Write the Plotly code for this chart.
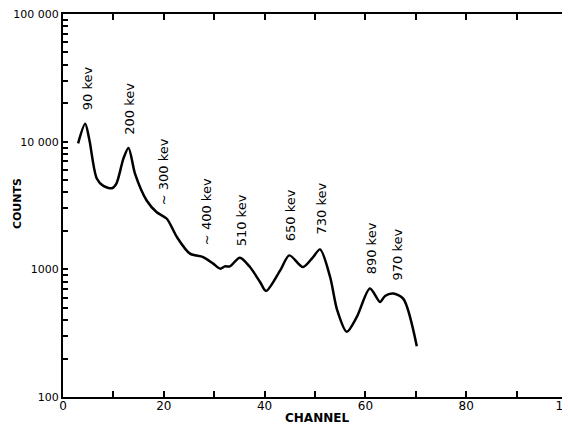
import plotly.graph_objects as go

# Data
channel = [3.0, 4.4, 5.2, 6.7, 8.0, 9.7, 10.6, 12.0, 13.0, 14.3, 16.6, 18.6, 20.6, 22.6, 25.2,
           27.8, 29.8, 31.2, 32.1, 33.1, 35.1, 37.1, 39.1, 40.3, 43.1, 44.9, 47.6, 49.5, 51.0, 53.0,
           54.4, 56.3, 58.3, 60.9, 62.9, 63.9, 65.5, 67.5, 70.2]
counts = [9700, 13800, 10500, 5140, 4500, 4320, 4700, 7400, 8930, 5590, 3460, 2800, 2490, 1790, 1327,
          1248, 1109, 1012, 1055, 1055, 1234, 1042, 795, 677, 981, 1286, 1042, 1230, 1433, 871,
          479, 324, 424, 707, 555, 619, 646, 590, 250]

peak_labels = ["90 kev", "200 kev", "~ 300 kev", "~ 400 kev", "510 kev", "650 kev", "730 kev", "890 kev", "970 kev"]
label_x = [4.8, 13.3, 20.0, 28.5, 35.5, 45.2, 51.2, 61.1, 66.3]
label_logy = [4.42, 4.258, 3.766, 3.453, 3.383, 3.422, 3.477, 3.164, 3.117]

y_tickvals = [100, 1000, 10000, 100000]
y_ticktext = ["100", "1000", "10 000", "100 000"]
y_minor = [m * d for d in (100, 1000, 10000) for m in range(2, 10)]
x_tickvals = [0, 20, 40, 60, 80, 100]

FONT = "DejaVu Sans"

fig = go.Figure()
fig.add_trace(go.Scatter(x=channel, y=counts, mode="lines",
                         line=dict(color="black", width=2.5, shape="spline", smoothing=0.8),
                         showlegend=False, hoverinfo="skip"))

for t, x, ly in zip(peak_labels, label_x, label_logy):
    fig.add_annotation(x=x, y=ly, text=t, textangle=-90, showarrow=False,
                       font=dict(family=FONT, size=13, color="black"))

fig.add_annotation(xref="paper", yref="paper", x=0.504, y=-0.055, yanchor="middle",
                   text="CHANNEL", showarrow=False,
                   font=dict(family=FONT, size=12, color="black", weight="bold"))
fig.add_annotation(xref="paper", yref="paper", x=-0.089, y=0.504, xanchor="center",
                   text="COUNTS", textangle=-90, showarrow=False,
                   font=dict(family=FONT, size=11, color="black", weight="bold"))

fig.update_xaxes(range=[0, 100], tick0=0, dtick=10,
                 ticks="inside", ticklen=6, tickwidth=1.5, tickcolor="black",
                 showline=True, linecolor="black", linewidth=2, mirror="ticks",
                 showgrid=False, zeroline=False, automargin=False,
                 showticklabels=False)
fig.update_yaxes(type="log", range=[2, 5], tickmode="array", tickvals=y_minor + y_tickvals,
                 ticktext=[""] * len(y_minor) + y_ticktext,
                 ticks="inside", ticklen=5, tickwidth=1.5, tickcolor="black",
                 showline=True, linecolor="black", linewidth=2, mirror="ticks",
                 showgrid=False, zeroline=False, automargin=False,
                 ticklabeloverflow="allow",
                 tickfont=dict(family=FONT, size=11, color="black"))

# x tick labels every 20 on an overlaying axis without ticks
fig.update_layout(xaxis2=dict(overlaying="x", matches="x", anchor="y", side="bottom",
                              tickmode="array", tickvals=x_tickvals, ticks="", showline=False,
                              showgrid=False, zeroline=False, automargin=False,
                              ticklabeloverflow="allow",
                              tickfont=dict(family=FONT, size=12, color="black")))
fig.add_trace(go.Scatter(x=[], y=[], xaxis="x2", yaxis="y", showlegend=False))

# The page body adds an 8px margin, so the figure is sized to fit the 570x428 window
fig.update_layout(width=562, height=420, margin=dict(l=55, r=3, t=6, b=31),
                  plot_bgcolor="white", paper_bgcolor="white")

fig.write_html("out.html")
